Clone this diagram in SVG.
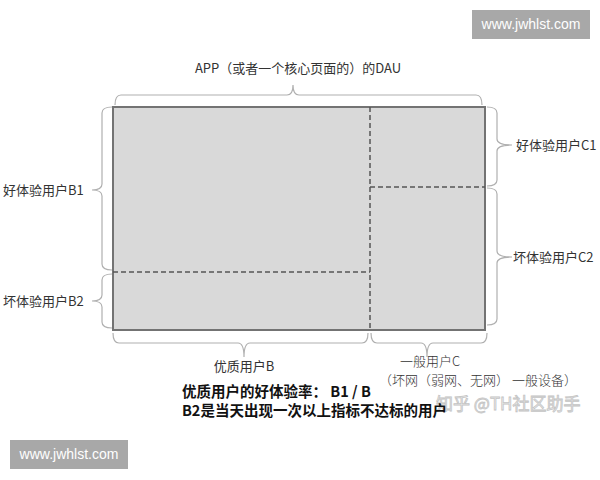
<svg xmlns="http://www.w3.org/2000/svg" width="600" height="480" viewBox="0 0 600 480">
<style>
.lbl{font-family:"Noto Sans CJK SC","Liberation Sans",sans-serif;font-size:13px;fill:#333}
.brace{fill:none;stroke:#b0b0b0;stroke-width:1.2}
.dash{stroke:#555;stroke-width:1.5;stroke-dasharray:5 3;fill:none}
.wm{fill:#a8a8a8}
.wmt{font-family:"Liberation Sans",sans-serif;font-size:14px;fill:#fff;text-anchor:middle}
.bold{font-family:"Noto Sans CJK SC",sans-serif;font-size:14.5px;font-weight:bold;fill:#111}
</style>
<rect width="600" height="480" fill="#fff"/>
<g id="watermark-top">
<rect class="wm" x="472" y="10" width="118" height="29"/>
<text class="wmt" x="531" y="29">www.jwhlst.com</text>
</g>
<g id="watermark-bottom">
<rect class="wm" x="10" y="440" width="118" height="29"/>
<text class="wmt" x="69" y="459">www.jwhlst.com</text>
</g>
<g id="title">
<text class="lbl" x="298" y="73" text-anchor="middle" font-size="14">APP（或者一个核心页面的）的DAU</text>
</g>
<g id="main-box">
<rect x="113" y="107" width="372" height="223" fill="#d9d9d9" stroke="#737373" stroke-width="2"/>
</g>
<g id="connectors">
<line class="dash" x1="370" y1="107" x2="370" y2="330"/>
<line class="dash" x1="370" y1="187" x2="485" y2="187"/>
<line class="dash" x1="113" y1="272" x2="370" y2="272"/>
<path class="brace" d="M115,105 Q115,95 121,95 L287,95 Q293,95 293,85 Q293,95 299,95 L476,95 Q482,95 482,105"/>
<path class="brace" d="M112,107 Q102,107 102,113 L102,184 Q102,190 92,190 Q102,190 102,196 L102,264 Q102,270 112,270"/>
<path class="brace" d="M112,274 Q102,274 102,280 L102,295 Q102,301 92,301 Q102,301 102,307 L102,322 Q102,328 112,328"/>
<path class="brace" d="M487,107 Q497,107 497,113 L497,139 Q497,145 512,145 Q497,145 497,151 L497,180 Q497,186 487,186"/>
<path class="brace" d="M487,188 Q497,188 497,194 L497,251 Q497,257 512,257 Q497,257 497,263 L497,319 Q497,325 487,325"/>
<path class="brace" d="M113,333 Q113,343 119,343 L238,343 Q244,343 244,357 Q244,343 250,343 L362,343 Q368,343 368,333"/>
<path class="brace" d="M371,333 Q371,343 377,343 L421,343 Q427,343 427,357 Q427,343 433,343 L481,343 Q487,343 487,333"/>
</g>
<g id="label-B1"><text class="lbl" x="3" y="195">好体验用户B1</text></g>
<g id="label-B2"><text class="lbl" x="3" y="306">坏体验用户B2</text></g>
<g id="label-C1"><text class="lbl" x="516" y="150">好体验用户C1</text></g>
<g id="label-C2"><text class="lbl" x="513" y="262">坏体验用户C2</text></g>
<g id="label-B"><text class="lbl" x="244" y="371" text-anchor="middle">优质用户B</text></g>
<g id="label-C">
<text class="lbl" x="430" y="366" text-anchor="middle" font-size="12.5" font-weight="300">一般用户C</text>
<text class="lbl" x="478" y="385" text-anchor="middle" font-size="10" font-weight="300">（坏网（弱网、无网） 一般设备）</text>
</g>
<g id="zhihu-watermark">
<text x="436" y="410" font-family="Noto Sans CJK SC,sans-serif" font-size="17" fill="#f2f2f2" stroke="#c4c4c4" stroke-width="0.8">知乎 @TH社区助手</text>
</g>
<g id="notes">
<text class="bold" x="182" y="397">优质用户的好体验率：  B1 / B</text>
<text class="bold" x="182" y="416">B2是当天出现一次以上指标不达标的用户</text>
</g>
</svg>
